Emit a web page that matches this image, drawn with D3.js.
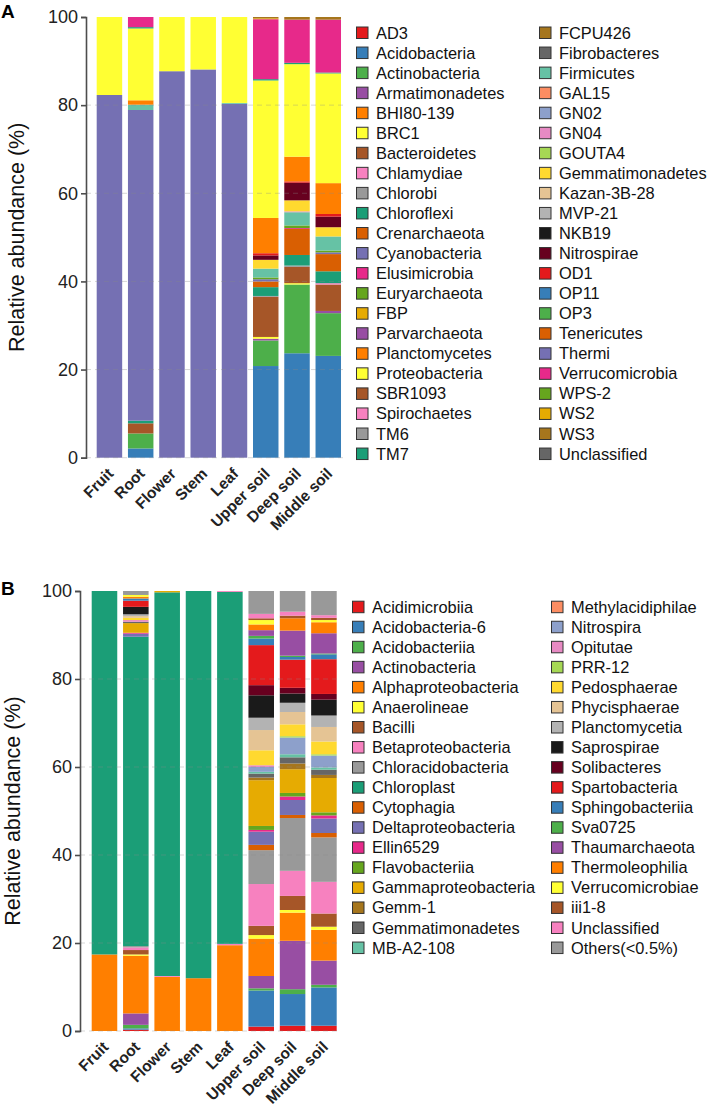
<!DOCTYPE html>
<html>
<head>
<meta charset="utf-8">
<script src="https://cdn.jsdelivr.net/npm/d3@7"></script>
<style>
  body { margin: 0; background: #fff; }
  text { font-family: "Liberation Sans", Arial, Helvetica, sans-serif; }
</style>
</head>
<body>
<div id="chart"></div>
<script>
const WIDTH = 709;
const HEIGHT = 1107;

const samples = ["Fruit", "Root", "Flower", "Stem", "Leaf", "Upper soil", "Deep soil", "Middle soil"];
const yTicks = [0, 20, 40, 60, 80, 100];

// colour cycle: Set1 + Dark2 + Set2 + two dark extras, repeated over the taxa
const set1 = ["#E41A1C", "#377EB8", "#4DAF4A", "#984EA3", "#FF7F00", "#FFFF33", "#A65628", "#F781BF", "#999999"];
const palette = set1.concat(d3.schemeDark2, d3.schemeSet2, ["#1A1A1A", "#67001F"]);

// ---- panel A : phylum level ----
const phyla = ["AD3", "Acidobacteria", "Actinobacteria", "Armatimonadetes", "BHI80-139", "BRC1",
  "Bacteroidetes", "Chlamydiae", "Chlorobi", "Chloroflexi", "Crenarchaeota", "Cyanobacteria",
  "Elusimicrobia", "Euryarchaeota", "FBP", "FCPU426", "Fibrobacteres", "Firmicutes", "GAL15",
  "GN02", "GN04", "GOUTA4", "Gemmatimonadetes", "Kazan-3B-28", "MVP-21", "NKB19", "Nitrospirae",
  "OD1", "OP11", "OP3", "Parvarchaeota", "Planctomycetes", "Proteobacteria", "SBR1093",
  "Spirochaetes", "TM6", "TM7", "Tenericutes", "Thermi", "Verrucomicrobia", "WPS-2", "WS2",
  "WS3", "Unclassified"];
const phylaLegendLeft = ["AD3", "Acidobacteria", "Actinobacteria", "Armatimonadetes", "BHI80-139",
  "BRC1", "Bacteroidetes", "Chlamydiae", "Chlorobi", "Chloroflexi", "Crenarchaeota",
  "Cyanobacteria", "Elusimicrobia", "Euryarchaeota", "FBP", "Parvarchaeota", "Planctomycetes",
  "Proteobacteria", "SBR1093", "Spirochaetes", "TM6", "TM7"];
const phylaLegendRight = ["FCPU426", "Fibrobacteres", "Firmicutes", "GAL15", "GN02", "GN04",
  "GOUTA4", "Gemmatimonadetes", "Kazan-3B-28", "MVP-21", "NKB19", "Nitrospirae", "OD1", "OP11",
  "OP3", "Tenericutes", "Thermi", "Verrucomicrobia", "WPS-2", "WS2", "WS3", "Unclassified"];

const phylumFruit = [["Cyanobacteria", 82.3], ["Proteobacteria", 17.7]];
const phylumRoot = [["Acidobacteria", 2.1], ["Actinobacteria", 3.4], ["Bacteroidetes", 2.3],
  ["Chloroflexi", 0.6], ["Cyanobacteria", 70.5], ["Firmicutes", 1.2], ["Planctomycetes", 1.0],
  ["Proteobacteria", 16.3], ["TM7", 0.3], ["Verrucomicrobia", 2.3]];
const phylumFlower = [["Cyanobacteria", 87.7], ["Proteobacteria", 12.3]];
const phylumStem = [["Cyanobacteria", 88.1], ["Proteobacteria", 11.9]];
const phylumLeaf = [["Cyanobacteria", 80.3], ["Firmicutes", 0.2], ["Proteobacteria", 19.5]];
const phylumUpperSoil = [["Acidobacteria", 20.8], ["Actinobacteria", 5.8], ["Armatimonadetes", 0.4],
  ["BRC1", 0.4], ["Bacteroidetes", 9.1], ["Chlorobi", 0.2], ["Chloroflexi", 2.0],
  ["Crenarchaeota", 1.3], ["Cyanobacteria", 0.5], ["Euryarchaeota", 0.4], ["Firmicutes", 2.0],
  ["Gemmatimonadetes", 2.0], ["Nitrospirae", 1.0], ["OD1", 0.5], ["Planctomycetes", 8.0],
  ["Proteobacteria", 31.2], ["TM7", 0.3], ["Verrucomicrobia", 13.6], ["WS2", 0.2], ["WS3", 0.3]];
const phylumDeepSoil = [["Acidobacteria", 23.7], ["Actinobacteria", 15.6], ["BRC1", 0.3],
  ["Bacteroidetes", 3.7], ["Chlorobi", 0.3], ["Chloroflexi", 2.4], ["Crenarchaeota", 5.9],
  ["Elusimicrobia", 0.2], ["Euryarchaeota", 0.6], ["Firmicutes", 3.0], ["GN04", 0.2],
  ["Gemmatimonadetes", 2.5], ["Nitrospirae", 4.0], ["OD1", 0.3], ["Planctomycetes", 5.6],
  ["Proteobacteria", 21.0], ["TM7", 0.3], ["Verrucomicrobia", 9.8], ["WS3", 0.6]];
const phylumMiddleSoil = [["Acidobacteria", 23.1], ["Actinobacteria", 9.7], ["Armatimonadetes", 0.5],
  ["Bacteroidetes", 6.0], ["Chlamydiae", 0.3], ["Chloroflexi", 2.7], ["Crenarchaeota", 3.9],
  ["Cyanobacteria", 0.4], ["Euryarchaeota", 0.4], ["Firmicutes", 3.2], ["Gemmatimonadetes", 2.1],
  ["Nitrospirae", 2.4], ["OD1", 0.6], ["Planctomycetes", 7.0], ["Proteobacteria", 24.9],
  ["TM7", 0.2], ["Verrucomicrobia", 12.0], ["WS3", 0.6]];

// ---- panel B : class level ----
const classes = ["Acidimicrobiia", "Acidobacteria-6", "Acidobacteriia", "Actinobacteria",
  "Alphaproteobacteria", "Anaerolineae", "Bacilli", "Betaproteobacteria", "Chloracidobacteria",
  "Chloroplast", "Cytophagia", "Deltaproteobacteria", "Ellin6529", "Flavobacteriia",
  "Gammaproteobacteria", "Gemm-1", "Gemmatimonadetes", "MB-A2-108", "Methylacidiphilae",
  "Nitrospira", "Opitutae", "PRR-12", "Pedosphaerae", "Phycisphaerae", "Planctomycetia",
  "Saprospirae", "Solibacteres", "Spartobacteria", "Sphingobacteriia", "Sva0725",
  "Thaumarchaeota", "Thermoleophilia", "Verrucomicrobiae", "iii1-8", "Unclassified",
  "Others(<0.5%)"];

const classFruit = [["Alphaproteobacteria", 17.4], ["Chloroplast", 82.6]];
const classRoot = [["Acidimicrobiia", 0.3], ["Acidobacteria-6", 0.3], ["Acidobacteriia", 0.8],
  ["Actinobacteria", 2.6], ["Alphaproteobacteria", 13.1], ["Anaerolineae", 0.3], ["Bacilli", 1.0],
  ["Betaproteobacteria", 0.6], ["Chloracidobacteria", 0.3], ["Chloroplast", 70.3],
  ["Deltaproteobacteria", 0.7], ["Ellin6529", 0.2], ["Gammaproteobacteria", 2.2],
  ["Gemmatimonadetes", 0.3], ["Opitutae", 0.4], ["Pedosphaerae", 0.5], ["Phycisphaerae", 0.4],
  ["Planctomycetia", 0.4], ["Saprospirae", 1.7], ["Spartobacteria", 1.4], ["Sphingobacteriia", 0.5],
  ["Thermoleophilia", 0.4], ["Verrucomicrobiae", 0.4], ["Others(<0.5%)", 0.9]];
const classFlower = [["Alphaproteobacteria", 12.3], ["Betaproteobacteria", 0.2], ["Chloroplast", 87.2],
  ["Gammaproteobacteria", 0.3]];
const classStem = [["Alphaproteobacteria", 12.0], ["Chloroplast", 88.0]];
const classLeaf = [["Alphaproteobacteria", 19.5], ["Betaproteobacteria", 0.3], ["Chloroplast", 80.0],
  ["Unclassified", 0.2]];
const classUpperSoil = [["Acidimicrobiia", 1.0], ["Acidobacteria-6", 8.2], ["Acidobacteriia", 0.5],
  ["Actinobacteria", 2.8], ["Alphaproteobacteria", 8.5], ["Anaerolineae", 0.8], ["Bacilli", 2.1],
  ["Betaproteobacteria", 9.5], ["Chloracidobacteria", 7.7], ["Cytophagia", 1.2],
  ["Deltaproteobacteria", 3.0], ["Ellin6529", 0.4], ["Flavobacteriia", 0.9],
  ["Gammaproteobacteria", 10.4], ["Gemm-1", 0.6], ["Gemmatimonadetes", 0.9], ["MB-A2-108", 0.4],
  ["Nitrospira", 1.1], ["Opitutae", 0.4], ["Pedosphaerae", 3.4], ["Phycisphaerae", 4.6],
  ["Planctomycetia", 2.8], ["Saprospirae", 5.1], ["Solibacteres", 2.3], ["Spartobacteria", 9.1],
  ["Sphingobacteriia", 1.5], ["Sva0725", 0.6], ["Thaumarchaeota", 1.3], ["Thermoleophilia", 1.3],
  ["Verrucomicrobiae", 1.0], ["iii1-8", 0.4], ["Unclassified", 1.0], ["Others(<0.5%)", 5.2]];
const classDeepSoil = [["Acidimicrobiia", 1.2], ["Acidobacteria-6", 7.2], ["Acidobacteriia", 1.1],
  ["Actinobacteria", 11.0], ["Alphaproteobacteria", 6.4], ["Anaerolineae", 0.6], ["Bacilli", 3.2],
  ["Betaproteobacteria", 5.7], ["Chloracidobacteria", 12.0], ["Cytophagia", 0.7],
  ["Deltaproteobacteria", 3.4], ["Ellin6529", 0.8], ["Flavobacteriia", 0.8],
  ["Gammaproteobacteria", 5.4], ["Gemm-1", 1.3], ["Gemmatimonadetes", 1.4], ["MB-A2-108", 0.7],
  ["Nitrospira", 3.8], ["PRR-12", 0.3], ["Pedosphaerae", 2.7], ["Phycisphaerae", 2.8],
  ["Planctomycetia", 2.1], ["Saprospirae", 2.1], ["Solibacteres", 1.3], ["Spartobacteria", 6.4],
  ["Sphingobacteriia", 0.6], ["Sva0725", 0.3], ["Thaumarchaeota", 5.7], ["Thermoleophilia", 2.8],
  ["iii1-8", 0.6], ["Unclassified", 0.9], ["Others(<0.5%)", 4.7]];
const classMiddleSoil = [["Acidimicrobiia", 1.2], ["Acidobacteria-6", 8.7], ["Acidobacteriia", 0.6],
  ["Actinobacteria", 5.5], ["Alphaproteobacteria", 7.0], ["Anaerolineae", 0.7], ["Bacilli", 3.0],
  ["Betaproteobacteria", 7.2], ["Chloracidobacteria", 10.1], ["Cytophagia", 1.0],
  ["Deltaproteobacteria", 3.3], ["Ellin6529", 0.7], ["Flavobacteriia", 0.7],
  ["Gammaproteobacteria", 7.8], ["Gemm-1", 0.7], ["Gemmatimonadetes", 1.2], ["MB-A2-108", 0.5],
  ["Nitrospira", 2.7], ["PRR-12", 0.3], ["Pedosphaerae", 2.9], ["Phycisphaerae", 3.3],
  ["Planctomycetia", 2.6], ["Saprospirae", 3.6], ["Solibacteres", 1.3], ["Spartobacteria", 7.9],
  ["Sphingobacteriia", 1.1], ["Sva0725", 0.2], ["Thaumarchaeota", 4.6], ["Thermoleophilia", 2.5],
  ["Verrucomicrobiae", 0.5], ["iii1-8", 0.5], ["Unclassified", 0.6], ["Others(<0.5%)", 5.5]];


const svg = d3.select("#chart").append("svg")
  .attr("xmlns", "http://www.w3.org/2000/svg")
  .attr("width", WIDTH)
  .attr("height", HEIGHT);


function drawPanel(opts) {
  const g = svg.append("g");
  const keys = opts.keys;
  const color = d3.scaleOrdinal().domain(keys).range(keys.map((k, i) => palette[i % palette.length]));

  const rows = samples.map((s, i) => {
    const row = { sample: s };
    keys.forEach(k => row[k] = 0);
    opts.values[i].forEach(([k, v]) => row[k] = v);
    return row;
  });
  const series = d3.stack().keys(keys)(rows);

  const x = d3.scaleBand().domain(samples).range(opts.xRange).paddingInner(0.185).paddingOuter(0.0925);
  const y = d3.scaleLinear().domain([0, 100]).range([opts.bottom, opts.top]);

  // bars
  g.append("g").selectAll("g")
    .data(series)
    .join("g")
    .attr("fill", d => color(d.key))
    .selectAll("rect")
    .data(d => d.filter(p => p[1] - p[0] > 0))
    .join("rect")
    .attr("x", d => x(d.data.sample))
    .attr("width", x.bandwidth())
    .attr("y", d => y(d[1]))
    .attr("height", d => y(d[0]) - y(d[1]));

  // dashed grid, drawn over the bars
  g.append("g").selectAll("line")
    .data(yTicks.filter(t => t < 100))
    .join("line")
    .attr("x1", opts.axisX)
    .attr("x2", opts.xRange[1])
    .attr("y1", d => y(d))
    .attr("y2", d => y(d))
    .style("stroke", "#8a8a8a")
    .style("stroke-opacity", 0.35)
    .style("stroke-dasharray", "5,4");

  // y axis
  const yAxis = g.append("g")
    .attr("transform", `translate(${opts.axisX},0)`)
    .call(d3.axisLeft(y).tickValues(yTicks).tickSize(5).tickPadding(3));
  yAxis.select(".domain").attr("stroke", "#4d4d4d").attr("stroke-width", 1.6);
  yAxis.selectAll(".tick line").attr("stroke", "#4d4d4d").attr("stroke-width", 1.6);
  yAxis.selectAll(".tick text")
    .attr("fill", "#222")
    .style("font-size", "18px")
    .style("font-family", "'Liberation Sans', Arial, sans-serif");

  g.append("text")
    .attr("transform", `translate(${opts.titleX},${(opts.top + opts.bottom) / 2}) rotate(-90)`)
    .attr("text-anchor", "middle")
    .style("font-size", "21.5px")
    .style("fill", "#111")
    .text("Relative abundance (%)");

  // x labels
  g.append("g").selectAll("text")
    .data(samples)
    .join("text")
    .attr("transform", d => `translate(${x(d) + x.bandwidth() / 2 + 5},${opts.bottom + 17}) rotate(-45)`)
    .attr("text-anchor", "end")
    .style("font-size", "15.5px")
    .style("font-weight", "bold")
    .style("fill", "#222")
    .text(d => d);

  // panel letter
  g.append("text")
    .attr("x", 1)
    .attr("y", opts.letterY)
    .style("font-size", "19px")
    .style("font-weight", "bold")
    .text(opts.letter);

  // legend
  opts.legend.forEach((col, c) => {
    const lg = g.append("g").selectAll("g")
      .data(col)
      .join("g")
      .attr("transform", (d, i) => `translate(${opts.legendX[c]},${opts.legendY + i * 20.05})`);
    lg.append("rect")
      .attr("x", 0.5)
      .attr("y", -5.5)
      .attr("width", 11.5)
      .attr("height", 11.5)
      .attr("fill", d => color(d))
      .attr("stroke", "#333")
      .attr("stroke-width", 1);
    lg.append("text")
      .attr("x", 20)
      .attr("y", 6)
      .style("font-size", "16.4px")
      .style("fill", "#111")
      .text(d => d);
  });
}

drawPanel({
  letter: "A", letterY: 18,
  keys: phyla,
  values: [phylumFruit, phylumRoot, phylumFlower, phylumStem, phylumLeaf,
    phylumUpperSoil, phylumDeepSoil, phylumMiddleSoil],
  top: 17, bottom: 457.7, axisX: 86, xRange: [93.8, 343.9], titleX: 24,
  legend: [phylaLegendLeft, phylaLegendRight], legendX: [356, 539], legendY: 32.5
});

drawPanel({
  letter: "B", letterY: 595,
  keys: classes,
  values: [classFruit, classRoot, classFlower, classStem, classLeaf,
    classUpperSoil, classDeepSoil, classMiddleSoil],
  top: 591, bottom: 1031, axisX: 80, xRange: [88.8, 339.6], titleX: 20,
  legend: [classes.slice(0, 18), classes.slice(18)], legendX: [352, 551], legendY: 606.7
});
</script>
</body>
</html>
